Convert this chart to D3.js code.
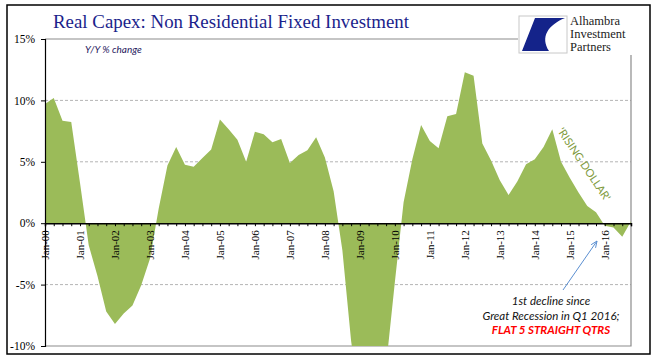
<!DOCTYPE html>
<html><head><meta charset="utf-8">
<script src="https://cdn.jsdelivr.net/npm/d3@7"></script>
<style>
body{margin:0;background:#fff;}
svg{display:block;}
</style></head>
<body>
<svg id="chart" width="658" height="358"></svg>
<script>
// ---- data ----
const startYear = 2000;               // first quarter: Q1 2000
const yoyChange = [
  9.7, 10.2, 8.35, 8.25,
  3.3, -1.8, -4.3, -7.2,
  -8.2, -7.35, -6.7, -5.05,
  -2.9, 1.2, 4.7, 6.2,
  4.75, 4.6, 5.3, 6.0,
  8.45, 7.65, 6.8, 5.0,
  7.45, 7.25, 6.6, 6.85,
  4.9, 5.55, 5.95, 7.0,
  5.35, 2.6, -2.2, -9.6,
  -14.5, -16.0, -15.0, -11.6,
  -4.8, 1.7, 5.2, 8.0,
  6.7, 6.1, 8.7, 8.9,
  12.3, 12.0, 6.5, 5.1,
  3.5, 2.3, 3.4, 4.8,
  5.2, 6.2, 7.65, 5.0,
  3.7, 2.5, 1.4, 0.9,
  -0.2, -0.35, -1.1, 0.15
];
const yTicks = [-10, -5, 0, 5, 10, 15];
const yTickLabels = ["-10%", "-5%", "0%", "5%", "10%", "15%"];
const xTickLabels = ["Jan-00","Jan-01","Jan-02","Jan-03","Jan-04","Jan-05","Jan-06","Jan-07","Jan-08",
                     "Jan-09","Jan-10","Jan-11","Jan-12","Jan-13","Jan-14","Jan-15","Jan-16"];
const titleText = "Real Capex: Non Residential Fixed Investment";
const subtitleText = "Y/Y % change";
const noteLines = ["1st decline since", "Great Recession in Q1 2016;"];
const noteRed = "FLAT 5 STRAIGHT QTRS";
const risingLabel = "'RISING DOLLAR'";
const logoLines = ["Alhambra", "Investment", "Partners"];

(function () {
// ---- layout ----
const svg = d3.select("#chart");
const pL = 45, pR = 631, pT = 39, pB = 346;
const n = yoyChange.length;
const x = d3.scaleLinear().domain([0, n - 1]).range([pL, pR]);
const y = d3.scaleLinear().domain([-10, 15]).range([pB, pT]);

// outer frame
svg.append("rect").attr("x", 7).attr("y", 5).attr("width", 643).attr("height", 349)
  .attr("fill", "#fff").attr("stroke", "#000").attr("stroke-width", 1.5);

// title
svg.append("text").attr("x", 53).attr("y", 28)
  .attr("font-family", "Liberation Serif, serif").attr("font-size", 19)
  .attr("textLength", 356).attr("lengthAdjust", "spacingAndGlyphs")
  .attr("fill", "#1c1f8c").text(titleText);

// gridlines
svg.append("g").selectAll("line").data([-5, 5, 10]).join("line")
  .attr("x1", pL).attr("x2", pR).attr("y1", d => y(d)).attr("y2", d => y(d))
  .attr("stroke", "#b4b4b4").attr("stroke-width", 1).attr("stroke-dasharray", "3,2");

// plot border (top, right, bottom)
svg.append("path")
  .attr("d", `M${pL},${y(15)}H${pR}V${y(-10)}H${pL}`)
  .attr("fill", "none").attr("stroke", "#8c8c8c").attr("stroke-width", 1.2);

// area
const clip = svg.append("clipPath").attr("id", "pc");
clip.append("rect").attr("x", pL).attr("y", pT).attr("width", pR - pL).attr("height", pB - pT);
const area = d3.area().x((d, i) => x(i)).y0(y(0)).y1(d => y(d));
svg.append("path").datum(yoyChange).attr("clip-path", "url(#pc)")
  .attr("d", area).attr("fill", "#9bbb59");

// y axis
const yAxis = d3.axisLeft(y).tickValues(yTicks).tickSize(4).tickPadding(6)
  .tickFormat((d, i) => yTickLabels[i]);
const gy = svg.append("g").attr("transform", `translate(${pL},0)`).call(yAxis);
gy.select(".domain").attr("stroke", "#000").attr("stroke-width", 1.2);
gy.selectAll(".tick line").attr("stroke", "#000");
gy.selectAll("text").attr("font-family", "Liberation Serif, serif").attr("font-size", 11.5).attr("fill", "#000");

// x axis at zero
const xAxis = d3.axisBottom(x).tickValues(d3.range(n)).tickSize(3).tickFormat("");
const gx = svg.append("g").attr("transform", `translate(0,${y(0)})`).call(xAxis);
gx.select(".domain").attr("stroke", "#000").attr("stroke-width", 1.5);
gx.selectAll(".tick line").attr("stroke", "#000");
// year labels
svg.append("g").selectAll("text").data(xTickLabels).join("text")
  .attr("transform", (d, i) => `translate(${x(i * 4) + 4},${y(0) + 7}) rotate(-90)`)
  .attr("text-anchor", "end")
  .attr("font-family", "Liberation Serif, serif").attr("font-size", 11).attr("fill", "#000")
  .text(d => d);

// subtitle
svg.append("text").attr("x", 85).attr("y", 53)
  .attr("font-family", "Lato, sans-serif").attr("font-style", "italic").attr("font-size", 10)
  .attr("fill", "#1f2060").text(subtitleText);

// rising dollar label
svg.append("text").attr("transform", "translate(557,131) rotate(56)")
  .attr("font-family", "Lato, sans-serif").attr("font-size", 11).attr("fill", "#7f9b3e")
  .text(risingLabel);

// arrow
const ax1 = 563, ay1 = 290, ax2 = 597, ay2 = 241;
svg.append("line").attr("x1", ax1).attr("y1", ay1).attr("x2", ax2).attr("y2", ay2)
  .attr("stroke", "#5b8fd1").attr("stroke-width", 1);
const ang = Math.atan2(ay1 - ay2, ax1 - ax2);
const hl = 7;
svg.append("path")
  .attr("d", `M${ax2 + hl*Math.cos(ang+0.4)},${ay2 + hl*Math.sin(ang+0.4)}L${ax2},${ay2}L${ax2 + hl*Math.cos(ang-0.4)},${ay2 + hl*Math.sin(ang-0.4)}`)
  .attr("fill", "none").attr("stroke", "#5b8fd1").attr("stroke-width", 1);

// note
const note = svg.append("g").attr("font-family", "Lato, sans-serif").attr("font-style", "italic")
  .attr("font-size", 11.5).attr("text-anchor", "middle");
note.selectAll("text.n").data(noteLines).join("text").attr("class", "n")
  .attr("x", 551).attr("y", (d, i) => 305 + i * 14.5).attr("fill", "#111").text(d => d);
note.append("text").attr("x", 551).attr("y", 334).attr("fill", "#ff0000")
  .attr("font-weight", "bold").text(noteRed);

// logo
const logo = svg.append("g");
logo.append("rect").attr("x", 518).attr("y", 14).attr("width", 122).attr("height", 41).attr("fill", "#fff");
logo.append("rect").attr("x", 519).attr("y", 16).attr("width", 48).attr("height", 37)
  .attr("fill", "#fff").attr("stroke", "#c8c8c8").attr("stroke-width", 1);
logo.append("path")
  .attr("d", "M535,18 L565,18 C548,25 540,37 549,51 L522,51 Z")
  .attr("fill", "#14238a");
logo.selectAll("text").data(logoLines).join("text")
  .attr("x", 570).attr("y", (d, i) => 25 + i * 13)
  .attr("font-family", "Liberation Serif, serif").attr("font-size", 12.5).attr("fill", "#222")
  .text(d => d);
})();
</script>
</body></html>
